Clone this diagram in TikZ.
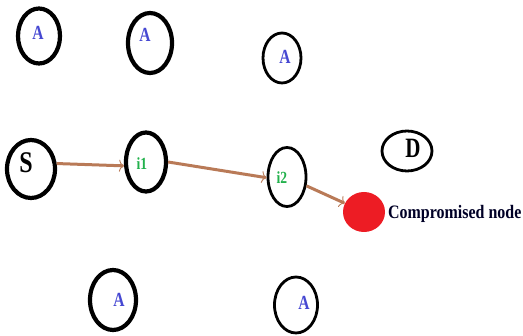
\documentclass[tikz,border=0pt]{standalone}
\usepackage{fontspec}
\usepackage{graphicx}
\setmainfont{Liberation Serif}
\usetikzlibrary{shapes.geometric,arrows.meta}
\definecolor{linkbrown}{RGB}{185,122,87}
\definecolor{agentblue}{RGB}{70,72,210}
\definecolor{hopgreen}{RGB}{34,177,76}
\definecolor{badred}{RGB}{237,28,36}
\newcommand{\squeeze}[2]{\scalebox{#1}[1]{#2}}
\tikzset{
  peer/.style={ellipse, draw=black, line width=4.2pt, inner sep=0pt},
  peerthin/.style={ellipse, draw=black, line width=2.8pt, inner sep=0pt},
  agent/.style={font=\bfseries\fontsize{20}{20}\selectfont, text=agentblue},
  hop/.style={font=\bfseries\fontsize{17}{17}\selectfont, text=hopgreen},
  endpoint/.style={font=\bfseries\fontsize{30}{30}\selectfont, text=black},
  link/.style={draw=linkbrown, line width=3pt,
    -{To[line width=0.9pt, length=5pt, width=12pt]}},
}
\begin{document}
\begin{tikzpicture}[x=1pt, y=-1pt]
  \useasboundingbox (0,0) rectangle (523,336);

  % upper row of nodes
  \node[peer, minimum width=42pt, minimum height=55pt] (a1) at (39,36) {};
  \node[agent] (ta1) at (38,33) {\squeeze{0.78}{A}};
  \node[peer, minimum width=44pt, minimum height=60pt] (a2) at (150,43) {};
  \node[agent] (ta2) at (145,35) {\squeeze{0.78}{A}};
  \node[peerthin, minimum width=38pt, minimum height=50pt] (a3) at (282,58) {};
  \node[agent] (ta3) at (285,57) {\squeeze{0.78}{A}};

  % route nodes
  \node[peer, minimum width=48pt, minimum height=58pt] (s) at (31,169) {};
  \node[endpoint] (ts) at (26,163) {\squeeze{0.8}{S}};
  \node[peer, minimum width=40pt, minimum height=59pt] (i1) at (146,162) {};
  \node[hop] (ti1) at (142,164) {\squeeze{0.8}{i1}};
  \node[peerthin, minimum width=38pt, minimum height=59pt] (i2) at (287,177) {};
  \node[hop] (ti2) at (282,178) {\squeeze{0.8}{i2}};
  \node[peerthin, minimum width=50pt, minimum height=40pt] (d) at (407,151) {};
  \node[endpoint, font=\bfseries\fontsize{28}{28}\selectfont] (td) at (413,148) {\squeeze{0.75}{D}};

  % compromised node
  \node[ellipse, fill=badred, minimum width=42pt, minimum height=40pt, inner sep=0pt] (bad) at (364,212) {};
  \node[anchor=west, font=\bfseries\fontsize{19}{19}\selectfont, text=black!85!blue, inner sep=0pt] (tbad) at (388,214)
    {\squeeze{0.84}{Compromised node}};

  % lower row of nodes
  \node[peer, minimum width=46pt, minimum height=60pt] (a4) at (113,300) {};
  \node[agent] (ta4) at (119,300) {\squeeze{0.78}{A}};
  \node[peerthin, minimum width=43pt, minimum height=56pt] (a5) at (296,305) {};
  \node[agent] (ta5) at (304,303) {\squeeze{0.78}{A}};

  % route towards the compromised node
  \draw[link] (s.12) -- (i1.190);
  \draw[link] (i1.0) -- (i2.182);
  \draw[link] (i2) -- (bad);
\end{tikzpicture}
\end{document}
